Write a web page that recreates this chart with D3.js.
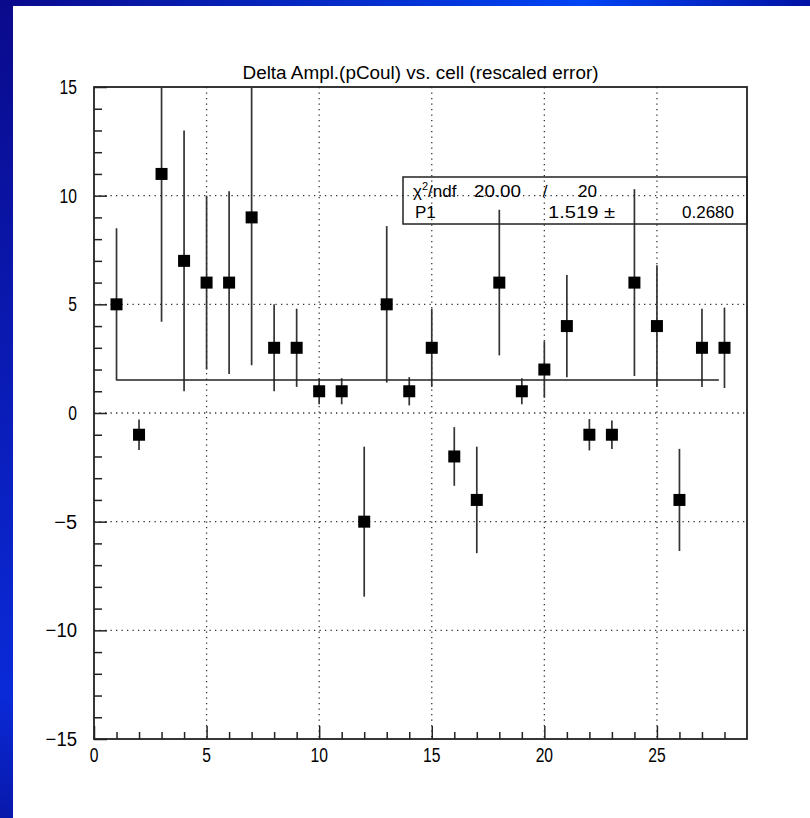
<!DOCTYPE html>
<html>
<head>
<meta charset="utf-8">
<script src="https://cdn.jsdelivr.net/npm/d3@7"></script>
<style>
  html, body { margin: 0; padding: 0; background: #fff; }
  svg { display: block; }
  text { font-family: "Liberation Sans Narrow", "Liberation Sans", Arial, sans-serif; fill: #000; }
</style>
</head>
<body>
<svg id="chart" width="810" height="818"></svg>
<script>
// ---- data ----
const cells  = [1,2,3,4,5,6,7,8,9,10,11,12,13,14,15,16,17,18,19,20,21,22,23,24,25,26,27,28];
const values = [5,-1,11,7,6,6,9,3,3,1,1,-5,5,1,3,-2,-4,6,1,2,4,-1,-1,6,4,-4,3,3];
const errors = [3.5,0.7,6.8,6.0,4.0,4.2,6.8,2.0,1.8,0.6,0.6,3.45,3.6,0.65,1.8,1.35,2.45,3.35,0.6,1.3,2.35,0.72,0.66,4.3,2.8,2.35,1.8,1.85];
const fitValue = 1.519;
const fitRange = [1, 27.75];
const xTicks = [0,5,10,15,20,25];
const yTicks = [-15,-10,-5,0,5,10,15];
const title = "Delta Ampl.(pCoul) vs. cell (rescaled error)";
const statRow1 = ["χ²/ndf", "20.00", "/", "20"];
const statRow2 = ["P1", "1.519 ±", "0.2680"];

// ---- layout ----
const W = 810, H = 818;
const frame = {left: 94, right: 747, top: 87, bottom: 739};
const svg = d3.select("#chart");

// background border gradients
const defs = svg.append("defs");
const gTop = defs.append("linearGradient").attr("id","gTop").attr("x1","0").attr("x2","1").attr("y1","0").attr("y2","0");
gTop.append("stop").attr("offset","0").attr("stop-color","#0a0a8c");
gTop.append("stop").attr("offset","0.72").attr("stop-color","#0044f4");
gTop.append("stop").attr("offset","1").attr("stop-color","#0012a4");
const gLeft = defs.append("linearGradient").attr("id","gLeft").attr("x1","0").attr("x2","0").attr("y1","0").attr("y2","1");
gLeft.append("stop").attr("offset","0").attr("stop-color","#0a0a8c");
gLeft.append("stop").attr("offset","0.85").attr("stop-color","#0a2ad8");
gLeft.append("stop").attr("offset","1").attr("stop-color","#0818aa");

svg.append("rect").attr("width",W).attr("height",H).attr("fill","#fff");
svg.append("rect").attr("x",0).attr("y",0).attr("width",W).attr("height",6).attr("fill","url(#gTop)");
svg.append("rect").attr("x",0).attr("y",0).attr("width",13).attr("height",H).attr("fill","url(#gLeft)");

const x = d3.scaleLinear().domain([0,29]).range([frame.left, frame.right]);
const y = d3.scaleLinear().domain([-15,15]).range([frame.bottom, frame.top]);

const ink = "#222";

// grid
const grid = svg.append("g").attr("stroke","#333").attr("stroke-width",1.3).attr("stroke-dasharray","1.3,4.2");
xTicks.filter(t => t > 0).forEach(t => {
  grid.append("line").attr("x1",x(t)).attr("x2",x(t)).attr("y1",frame.top).attr("y2",frame.bottom);
});
yTicks.filter(t => t > -15 && t < 15).forEach(t => {
  grid.append("line").attr("x1",frame.left).attr("x2",frame.right).attr("y1",y(t)).attr("y2",y(t));
});

// axes (ticks inward)
const xAxis = d3.axisTop(x).tickValues(d3.range(0,29,1)).tickFormat("").tickSizeInner(7).tickSizeOuter(0);
const gx = svg.append("g").attr("transform",`translate(0,${frame.bottom})`).call(xAxis);
gx.selectAll(".tick line").filter(d => d % 5 === 0).attr("y2", -13);
gx.select(".domain").remove();
gx.selectAll(".tick line").attr("stroke",ink).attr("stroke-width",1.5);

const yAxis = d3.axisRight(y).tickValues(d3.range(-15,16,1)).tickFormat("").tickSizeInner(8).tickSizeOuter(0);
const gy = svg.append("g").attr("transform",`translate(${frame.left},0)`).call(yAxis);
gy.selectAll(".tick line").filter(d => d % 5 === 0).attr("x2", 13);
gy.select(".domain").remove();
gy.selectAll(".tick line").attr("stroke",ink).attr("stroke-width",1.5);

// tick labels (narrow, tall digits)
const lbl = d => d < 0 ? "\u2212" + Math.abs(d) : String(d);
const lblLen = d => String(Math.abs(d)).length * 8.7 + (d < 0 ? 14 : 0);
svg.append("g").selectAll("text").data(xTicks).join("text")
  .attr("x", d => x(d)).attr("y", frame.bottom + 23)
  .attr("text-anchor","middle").attr("font-size",20)
  .attr("textLength", lblLen).attr("lengthAdjust","spacingAndGlyphs").text(lbl);
svg.append("g").selectAll("text").data(yTicks).join("text")
  .attr("x", 77).attr("y", d => y(d) + 7)
  .attr("text-anchor","end").attr("font-size",20)
  .attr("textLength", lblLen).attr("lengthAdjust","spacingAndGlyphs").text(lbl);

// title
svg.append("text").attr("x", (frame.left+frame.right)/2).attr("y", 79)
  .attr("text-anchor","middle").attr("font-size",18)
  .attr("textLength",356).attr("lengthAdjust","spacingAndGlyphs").text(title);

// frame
svg.append("rect").attr("x",frame.left).attr("y",frame.top)
  .attr("width",frame.right-frame.left).attr("height",frame.bottom-frame.top)
  .attr("fill","none").attr("stroke",ink).attr("stroke-width",1.8);

// clip for data
defs.append("clipPath").attr("id","clip").append("rect")
  .attr("x",frame.left).attr("y",frame.top).attr("width",frame.right-frame.left).attr("height",frame.bottom-frame.top);
const plot = svg.append("g").attr("clip-path","url(#clip)");

const pts = cells.map((c,i) => ({c, v: values[i], e: errors[i]}));

// error bars
plot.append("g").selectAll("line").data(pts).join("line")
  .attr("x1", d => x(d.c)).attr("x2", d => x(d.c))
  .attr("y1", d => y(d.v + d.e)).attr("y2", d => y(d.v - d.e))
  .attr("stroke","#333").attr("stroke-width",1.7);

// fit line
plot.append("line").attr("x1",x(fitRange[0])).attr("x2",x(fitRange[1]))
  .attr("y1",y(fitValue)).attr("y2",y(fitValue))
  .attr("stroke",ink).attr("stroke-width",1.7);

// markers
const ms = 12;
plot.append("g").selectAll("rect").data(pts).join("rect")
  .attr("x", d => x(d.c) - ms/2).attr("y", d => y(d.v) - ms/2)
  .attr("width", ms).attr("height", ms).attr("fill","#000");

// stats box
const box = {x1: 403, x2: 747, y1: 177, y2: 224};
svg.append("rect").attr("x",box.x1).attr("y",box.y1).attr("width",box.x2-box.x1).attr("height",box.y2-box.y1)
  .attr("fill","none").attr("stroke",ink).attr("stroke-width",1.5);
const st = svg.append("g").attr("font-size",17);
// row 1
const r1 = st.append("text").attr("x",413).attr("y",197);
r1.append("tspan").text("χ");
r1.append("tspan").attr("dy",-7).attr("font-size",11).text("2");
r1.append("tspan").attr("dy",7).text("/ndf");
st.append("text").attr("x",521).attr("y",197).attr("text-anchor","end")
  .attr("textLength",47).attr("lengthAdjust","spacingAndGlyphs").text(statRow1[1]);
st.append("text").attr("x",545).attr("y",197).attr("text-anchor","middle").text(statRow1[2]);
st.append("text").attr("x",597).attr("y",197).attr("text-anchor","end")
  .attr("textLength",19).attr("lengthAdjust","spacingAndGlyphs").text(statRow1[3]);
// row 2
st.append("text").attr("x",415).attr("y",218).text(statRow2[0]);
st.append("text").attr("x",548).attr("y",218)
  .attr("textLength",67).attr("lengthAdjust","spacingAndGlyphs").text(statRow2[1]);
st.append("text").attr("x",734).attr("y",218).attr("text-anchor","end")
  .attr("textLength",52).attr("lengthAdjust","spacingAndGlyphs").text(statRow2[2]);
</script>
</body>
</html>
